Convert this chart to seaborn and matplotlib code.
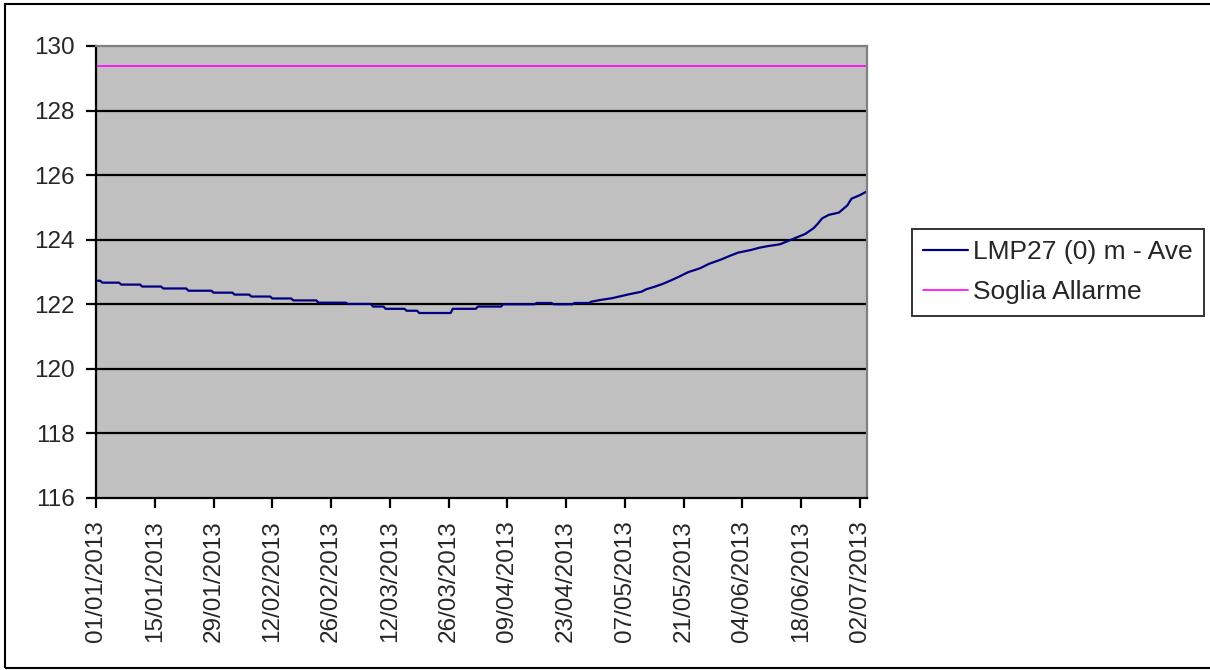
import numpy as np
import pandas as pd
import matplotlib
matplotlib.use("Agg")
import matplotlib.pyplot as plt
import matplotlib.patches as mpatches
import seaborn as sns

# ---- data ----
start_date = "2013-01-01"
# day offsets from start_date and levels (plateaus = two points)
point_days = [0, 1, 1.5, 5.5, 6, 10.5, 11, 15.5, 16, 21.5, 22, 27.5, 28, 32.5,
              33, 36.5, 37, 41.5, 42, 46.5, 47, 52.5, 53, 59.5, 60, 65.5, 66,
              68.5, 69, 73.5, 74, 76.5, 77, 84.5, 85, 90.5, 91, 96.5, 97, 104.5,
              105, 108.5, 109, 113.5, 114, 117.5,
              118, 120, 123, 125, 127, 130, 131, 133, 135, 137, 139, 141, 144,
              146, 149, 151, 153, 156, 158, 160, 163, 166, 169, 171, 172, 173,
              174.6, 177, 179, 180, 182, 183, 183.7]
level_values = [122.73, 122.73, 122.67, 122.67, 122.61, 122.61, 122.55, 122.55,
                122.49, 122.49, 122.42, 122.42, 122.36, 122.36, 122.30, 122.30,
                122.24, 122.24, 122.18, 122.18, 122.12, 122.12, 122.05, 122.05,
                122.01, 122.01, 121.93, 121.93, 121.86, 121.86, 121.80, 121.80,
                121.73, 121.73, 121.86, 121.86, 121.93, 121.93, 122.00, 122.00,
                122.04, 122.04, 122.00, 122.00, 122.04, 122.04,
                122.08, 122.13, 122.19, 122.25, 122.31, 122.39, 122.46, 122.54,
                122.63, 122.74, 122.86, 122.99, 123.12, 123.25, 123.39, 123.50,
                123.60, 123.68, 123.75, 123.80, 123.86, 124.02, 124.18, 124.36,
                124.50, 124.66, 124.77, 124.84, 125.06, 125.27, 125.38, 125.45,
                125.50]
threshold_value = 129.37
series_names = ["LMP27 (0) m - Ave", "Soglia Allarme"]
tick_labels = ["01/01/2013", "15/01/2013", "29/01/2013", "12/02/2013",
               "26/02/2013", "12/03/2013", "26/03/2013", "09/04/2013",
               "23/04/2013", "07/05/2013", "21/05/2013", "04/06/2013",
               "18/06/2013", "02/07/2013"]
y_ticks = [116, 118, 120, 122, 124, 126, 128, 130]

t0 = pd.Timestamp(start_date)
dates = [t0 + pd.Timedelta(days=d) for d in point_days]
df = pd.DataFrame({"date": dates, "value": level_values})
x_end = t0 + pd.Timedelta(days=183.7)
df_thr = pd.DataFrame({"date": [t0, x_end], "value": [threshold_value] * 2})

sns.set_style("white")
plt.rcParams["font.family"] = ["Liberation Sans", "DejaVu Sans"]

fig = plt.figure(figsize=(12.1, 6.7), dpi=100)
fig.patch.set_facecolor("white")
ax = fig.add_axes([96 / 1210, 1 - 498 / 670, (867 - 96) / 1210, (498 - 46) / 670])
ax.set_facecolor("#C0C0C0")

sns.lineplot(data=df, x="date", y="value", ax=ax, color="#000080", lw=1.6,
             label=series_names[0], legend=False, sort=False)
sns.lineplot(data=df_thr, x="date", y="value", ax=ax, color="#FF00FF", lw=1.2,
             label=series_names[1], legend=False)

ax.set_ylim(116, 130)
ax.set_yticks(y_ticks)
ax.set_xlim(t0, x_end)
tick_pos = [pd.to_datetime(s, dayfirst=True) for s in tick_labels]
ax.set_xticks(tick_pos)
ax.set_xticklabels(tick_labels, rotation=90)
ax.set_xlabel("")
ax.set_ylabel("")

ax.grid(False)
for yv in y_ticks[1:-1]:
    ax.axhline(yv, color="black", lw=1.6, zorder=1)

for s in ["left", "bottom"]:
    ax.spines[s].set_color("black")
    ax.spines[s].set_linewidth(1.6)
for s in ["top", "right"]:
    ax.spines[s].set_color("#808080")
    ax.spines[s].set_linewidth(1.6)

ax.tick_params(axis="y", direction="out", length=7.2, width=1.6, color="black",
               labelsize=17.5, pad=8, left=True)
ax.tick_params(axis="x", direction="out", length=7.2, width=1.6, color="black",
               labelsize=17.5, pad=9, bottom=True)

leg = fig.legend(handles=ax.get_lines()[:2], labels=series_names,
                 loc="upper left", bbox_to_anchor=(912 / 1210, 1 - 229 / 670),
                 fontsize=19, frameon=True, fancybox=False, shadow=False,
                 handlelength=1.7, handletextpad=0.2, borderpad=0.42,
                 labelspacing=0.62, borderaxespad=0)
leg.get_frame().set_edgecolor("black")
leg.get_frame().set_linewidth(1.4)

fig.add_artist(mpatches.Rectangle((5 / 1210, 2 / 670), 1.2, 664 / 670,
                                  transform=fig.transFigure, fill=False,
                                  edgecolor="black", lw=1.5, clip_on=False))

fig.savefig("out.png", dpi=100)
